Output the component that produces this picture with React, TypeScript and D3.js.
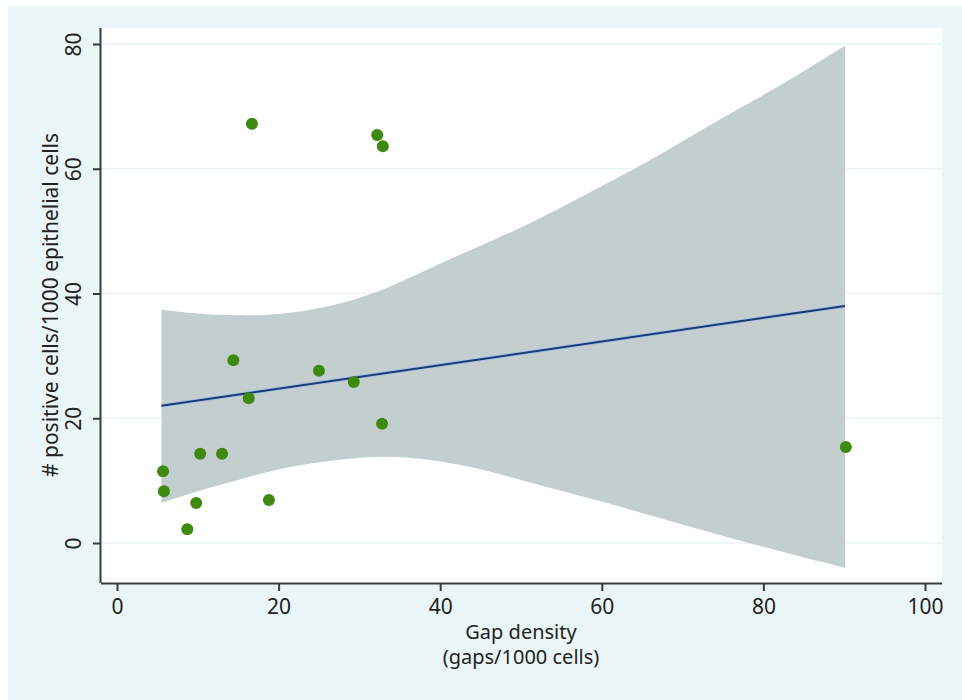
import React, { useRef, useEffect } from 'react';
import * as d3 from 'd3';

// Scatter points (x: gaps/1000 cells, y: positive cells/1000 epithelial cells)
const gapDensity = [5.7, 5.8, 8.7, 9.8, 10.3, 13.0, 14.4, 16.3, 16.7, 18.8, 25.0, 29.3, 32.2, 32.9, 32.8, 90.2];
const positiveCells = [11.5, 8.3, 2.2, 6.4, 14.3, 14.3, 29.3, 23.2, 67.2, 6.9, 27.6, 25.8, 65.4, 63.6, 19.1, 15.4];

// Fitted line endpoints
const fitX = [5.5, 90.1];
const fitY = [22.0, 38.0];

// Confidence band
const bandX = [5.5, 10, 15, 20, 26, 32, 37.5, 44, 50, 56, 62.3, 68, 74.6, 82, 90.1];
const bandUpper = [37.4, 36.8, 36.5, 36.7, 37.9, 40.2, 43.3, 47.1, 50.6, 54.5, 58.8, 62.9, 67.9, 73.3, 79.7];
const bandLower = [6.4, 8.3, 10.1, 11.8, 13.1, 13.8, 13.5, 12.1, 10.1, 8.0, 5.8, 3.7, 1.3, -1.3, -4.0];

const xTicks = [0, 20, 40, 60, 80, 100];
const yTicks = [0, 20, 40, 60, 80];

const App = () => {
  const svgRef = useRef<SVGSVGElement>(null);

  useEffect(() => {
    if (!svgRef.current) return;
    const svg = d3.select(svgRef.current);
    svg.selectAll('*').remove();

    const width = 962;
    const height = 700;
    const font = '"Noto Sans", "Open Sans", sans-serif';
    const fontSize = '21px';

    // outer panel
    svg.append('rect')
      .attr('x', 8).attr('y', 6)
      .attr('width', width - 8).attr('height', height - 6)
      .attr('fill', '#eaf6f7');

    // plot region
    const plot = { left: 101, right: 942, top: 28, bottom: 583 };
    svg.append('rect')
      .attr('x', plot.left).attr('y', plot.top)
      .attr('width', plot.right - plot.left).attr('height', plot.bottom - plot.top)
      .attr('fill', '#ffffff');

    const x = d3.scaleLinear().domain([0, 100]).range([117, 925]);
    const y = d3.scaleLinear().domain([0, 80]).range([543, 44]);

    // gridlines
    svg.append('g')
      .selectAll('line')
      .data(yTicks)
      .enter()
      .append('line')
      .attr('x1', plot.left).attr('x2', plot.right)
      .attr('y1', d => y(d)).attr('y2', d => y(d))
      .attr('stroke', '#eaf3f4')
      .attr('stroke-width', 1.5);

    // confidence band
    const area = d3.area<number>()
      .x((d, i) => x(bandX[i]))
      .y0((d, i) => y(bandLower[i]))
      .y1(d => y(d))
      .curve(d3.curveNatural);

    svg.append('path')
      .datum(bandUpper)
      .attr('d', area)
      .attr('fill', '#c3cfcf');

    // fitted line
    const line = d3.line<number>()
      .x((d, i) => x(fitX[i]))
      .y(d => y(d));

    svg.append('path')
      .datum(fitY)
      .attr('d', line)
      .attr('fill', 'none')
      .attr('stroke', '#a9c0e6')
      .attr('stroke-width', 4);
    svg.append('path')
      .datum(fitY)
      .attr('d', line)
      .attr('fill', 'none')
      .attr('stroke', '#1d3a72')
      .attr('stroke-width', 2);

    // points
    svg.append('g')
      .selectAll('circle')
      .data(gapDensity)
      .enter()
      .append('circle')
      .attr('cx', d => x(d))
      .attr('cy', (d, i) => y(positiveCells[i]))
      .attr('r', 6)
      .attr('fill', '#3d8a0e');

    // axes
    const xAxis = d3.axisBottom(x).tickValues(xTicks).tickSize(8).tickPadding(8);
    const xg = svg.append('g')
      .attr('transform', `translate(0,${plot.bottom})`)
      .call(xAxis);
    xg.select('.domain').attr('d', `M${plot.left},0.5H${plot.right}`);

    const yAxis = d3.axisLeft(y).tickValues(yTicks).tickSize(8).tickPadding(4);
    const yg = svg.append('g')
      .attr('transform', `translate(${plot.left},0)`)
      .call(yAxis);
    yg.select('.domain').attr('d', `M-0.5,${plot.top}V${plot.bottom}`);

    [xg, yg].forEach(g => {
      g.select('.domain').attr('stroke', '#3a3a3a').attr('stroke-width', 2);
      g.selectAll('.tick line').attr('stroke', '#3a3a3a').attr('stroke-width', 2);
      g.selectAll('.tick text')
        .attr('fill', '#222')
        .attr('font-size', fontSize)
        .attr('font-family', font);
    });

    // rotate y tick labels like the reference
    yg.selectAll('.tick text')
      .attr('x', null)
      .attr('text-anchor', 'middle')
      .attr('transform', 'translate(-27,0) rotate(-90)')
      .attr('dy', '0.35em');

    // axis titles
    const xTitle = svg.append('text')
      .attr('text-anchor', 'middle')
      .attr('font-size', '20px')
      .attr('font-family', font)
      .attr('fill', '#222');
    xTitle.append('tspan').attr('x', 521).attr('y', 639).text('Gap density');
    xTitle.append('tspan').attr('x', 521).attr('y', 664).text('(gaps/1000 cells)');

    svg.append('text')
      .attr('transform', 'translate(51,305) rotate(-90)')
      .attr('text-anchor', 'middle')
      .attr('dy', '0.35em')
      .attr('font-size', fontSize)
      .attr('font-family', font)
      .attr('fill', '#222')
      .text('# positive cells/1000 epithelial cells');
  }, []);

  return (
    <svg ref={svgRef} width={962} height={700}
      style={{ position: 'absolute', left: 0, top: 0, display: 'block', background: '#ffffff' }} />
  );
};

export default App;
